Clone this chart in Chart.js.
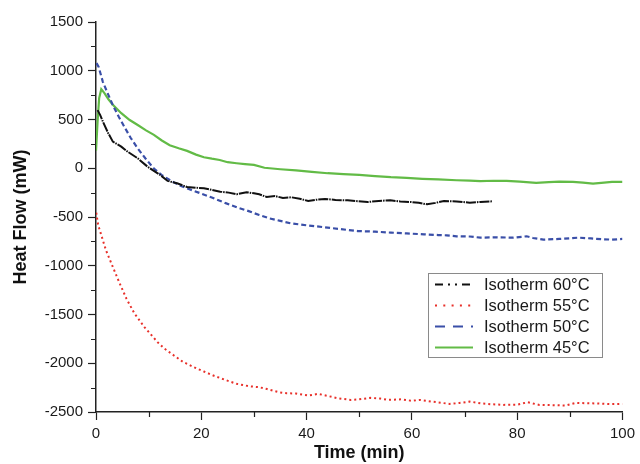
<!DOCTYPE html>
<html>
<head>
<meta charset="utf-8">
<script src="https://cdn.jsdelivr.net/npm/chart.js@4.4.1/dist/chart.umd.min.js"></script>
<style>
  html, body { margin: 0; padding: 0; background: #fff; }
  #wrap { width: 640px; height: 464px; }
</style>
</head>
<body>
<div id="wrap"><canvas id="heat"></canvas></div>
<script>
// isothermal runs: time (min) and heat flow (mW)
var t60 = [0.3, 0.8, 1.3, 2.3, 3.2, 4.8, 6, 7.9, 9.8, 10.7, 12.2, 13.6, 15.4, 17.3, 19, 20.5, 22.3, 23.6, 25.2, 26.7, 28.6, 30, 31, 32.4, 34, 35.5, 37.1, 38.7, 40.3, 42, 43.5, 45.5, 47.8, 49.7, 51.6, 53.7, 55.9, 57.8, 59.7, 61.3, 62.9, 64.5, 66.1, 68.5, 71, 73, 75.2];
var hf60 = [596, 545, 479, 362, 273, 222, 170, 103, 16, -17, -69, -130, -154, -192, -200, -205, -226, -240, -250, -267, -246, -257, -267, -294, -285, -305, -298, -312, -336, -322, -315, -325, -329, -338, -346, -335, -329, -340, -346, -355, -370, -355, -336, -340, -353, -345, -339];

var t55 = [0.05, 0.4, 0.9, 1.9, 3.2, 4.5, 5.8, 7.3, 9.2, 11.7, 13, 14.8, 16.5, 18.6, 20.5, 22.3, 24.5, 26.7, 29, 31, 32.5, 34.7, 36.2, 38, 40.3, 42.2, 44, 46, 48.4, 50, 52.1, 54, 55.4, 58, 60, 61.6, 64, 67.2, 69, 71, 73, 75, 77.3, 80, 82, 84.2, 87, 89.2, 91.2, 93, 95, 97.5, 100];
var hf55 = [-455, -580, -668, -842, -1013, -1181, -1340, -1489, -1630, -1784, -1850, -1920, -1985, -2041, -2085, -2126, -2170, -2211, -2235, -2246, -2265, -2297, -2308, -2310, -2331, -2314, -2335, -2360, -2376, -2370, -2355, -2362, -2376, -2370, -2385, -2376, -2395, -2417, -2408, -2393, -2410, -2420, -2427, -2425, -2400, -2427, -2430, -2434, -2406, -2410, -2412, -2418, -2417];

var t50 = [0.1, 0.5, 1.3, 2.2, 3.2, 4.3, 5.4, 6.6, 7.9, 9.4, 11, 12.5, 14.1, 15.8, 17.5, 19.5, 22, 24.5, 27, 29, 31, 33, 35, 37, 40, 43.5, 46.5, 49.7, 53, 56, 59, 62.3, 65, 66.6, 68.5, 71, 73, 76, 79.3, 81.8, 83, 85, 88, 91.7, 94, 96, 98, 100];
var hf50 = [1078, 1040, 886, 770, 647, 530, 424, 310, 205, 100, -3, -70, -123, -175, -210, -250, -300, -355, -405, -440, -480, -515, -540, -565, -585, -606, -625, -644, -650, -660, -668, -678, -685, -688, -698, -700, -712, -708, -712, -698, -715, -732, -725, -712, -720, -728, -732, -725];

var t45 = [0, 0.3, 0.6, 1.0, 1.6, 2.4, 3.2, 4.8, 6.4, 8, 9.5, 11, 12.5, 14, 15.7, 17.3, 19, 20.5, 22, 23.5, 25, 26.7, 28.3, 30, 32, 35, 38, 41, 44, 47, 50, 53, 56, 59, 62, 65, 68.5, 71, 73, 75.5, 78, 80.5, 83.6, 86, 88, 90.6, 92.5, 94.4, 96.5, 98, 100];
var hf45 = [180, 480, 720, 811, 770, 705, 650, 565, 495, 441, 388, 342, 285, 236, 205, 178, 140, 113, 98, 85, 62, 51, 42, 34, 5, -10, -22, -38, -51, -60, -68, -80, -92, -98, -108, -115, -123, -126, -133, -128, -130, -138, -150, -143, -138, -140, -148, -157, -148, -140, -140];

var seriesNames = ['Isotherm 60°C', 'Isotherm 55°C', 'Isotherm 50°C', 'Isotherm 45°C'];
var xTicksMajor = [0, 20, 40, 60, 80, 100];
var yTicksMajor = [-2500, -2000, -1500, -1000, -500, 0, 500, 1000, 1500];

function pts(xs, ys) {
    return xs.map(function (x, i) { return {x: x, y: ys[i]}; });
}

var FONT = 'Arial, "Liberation Sans", sans-serif';

// legend box and minor ticks
var extras = {
    id: 'extras',
    afterDraw: function (chart) {
        var ctx = chart.ctx;
        var xs = chart.scales.x, ys = chart.scales.y;
        var area = chart.chartArea;
        ctx.save();
        ctx.strokeStyle = '#222';
        ctx.lineWidth = 1.2;
        ctx.beginPath();
        for (var v = 10; v < 100; v += 20) {
            var px = Math.round(xs.getPixelForValue(v)) + 0.5;
            ctx.moveTo(px, area.bottom);
            ctx.lineTo(px, area.bottom + 5);
        }
        for (var w = -2250; w < 1500; w += 500) {
            var py = Math.round(ys.getPixelForValue(w)) + 0.5;
            ctx.moveTo(area.left, py);
            ctx.lineTo(area.left - 5, py);
        }
        ctx.stroke();

        // legend
        var bx = 428.5, by = 273.5, bw = 174, bh = 84;
        ctx.fillStyle = '#fff';
        ctx.fillRect(bx, by, bw, bh);
        ctx.strokeStyle = '#8a8a8a';
        ctx.lineWidth = 1;
        ctx.strokeRect(bx, by, bw, bh);
        ctx.font = '16.5px ' + FONT;
        ctx.textBaseline = 'middle';
        chart.data.datasets.forEach(function (ds, i) {
            var ry = 284.5 + i * 21;
            ctx.strokeStyle = ds.borderColor;
            ctx.lineWidth = ds.borderWidth;
            ctx.setLineDash(ds.legendDash);
            ctx.beginPath();
            ctx.moveTo(435, ry);
            ctx.lineTo(473, ry);
            ctx.stroke();
            ctx.setLineDash([]);
            ctx.fillStyle = '#1a1a1a';
            ctx.fillText(ds.label, 484, ry + 1);
        });
        ctx.restore();
    }
};

function plain(v) { return String(v); }

var ctx = document.getElementById('heat').getContext('2d');
var chart = new Chart(ctx, {
    type: 'line',
    data: {
        datasets: [{
            label: seriesNames[0],
            data: pts(t60, hf60),
            borderColor: '#111111',
            borderWidth: 2,
            borderDash: [10, 1, 1.5, 1],
            legendDash: [8, 5, 2, 5, 2, 5]
        }, {
            label: seriesNames[1],
            data: pts(t55, hf55),
            borderColor: '#e8302a',
            borderWidth: 2,
            borderDash: [2, 3],
            legendDash: [2, 6.3]
        }, {
            label: seriesNames[2],
            data: pts(t50, hf50),
            borderColor: '#3a4fa8',
            borderWidth: 2.2,
            borderDash: [5, 3],
            legendDash: [10, 8]
        }, {
            label: seriesNames[3],
            data: pts(t45, hf45),
            borderColor: '#62bb46',
            borderWidth: 2.2,
            borderDash: [],
            legendDash: []
        }]
    },
    options: {
        responsive: true,
        maintainAspectRatio: false,
        animation: false,
        layout: { padding: { left: 0, right: 13, top: 22, bottom: 0 } },
        elements: {
            point: { radius: 0 },
            line: { tension: 0, fill: false }
        },
        plugins: {
            legend: { display: false },
            tooltip: { enabled: false }
        },
        scales: {
            x: {
                type: 'linear',
                min: 0,
                max: 100,
                afterFit: function (s) { s.height = 52; },
                afterBuildTicks: function (s) { s.ticks = xTicksMajor.map(function (v) { return {value: v}; }); },
                border: { color: '#222', width: 1.5 },
                grid: { drawOnChartArea: false, tickLength: 8, color: '#222', tickWidth: 1.2 },
                ticks: { color: '#1a1a1a', padding: 5, maxRotation: 0, callback: plain, font: { family: FONT, size: 15 } },
                title: {
                    display: true,
                    text: 'Time (min)',
                    color: '#111',
                    padding: { top: 0, bottom: 0 },
                    font: { family: FONT, size: 18, weight: 'bold' }
                }
            },
            y: {
                min: -2500,
                max: 1500,
                afterFit: function (s) { s.width = 96; },
                afterBuildTicks: function (s) { s.ticks = yTicksMajor.map(function (v) { return {value: v}; }); },
                border: { color: '#222', width: 1.5 },
                grid: { drawOnChartArea: false, tickLength: 8, color: '#222', tickWidth: 1.2 },
                ticks: { color: '#1a1a1a', padding: 5, callback: plain, font: { family: FONT, size: 15 } },
                title: {
                    display: true,
                    text: 'Heat Flow (mW)',
                    color: '#111',
                    padding: { top: 10, bottom: 0 },
                    font: { family: FONT, size: 18, weight: 'bold' }
                }
            }
        }
    },
    plugins: [extras]
});
</script>
</body>
</html>
